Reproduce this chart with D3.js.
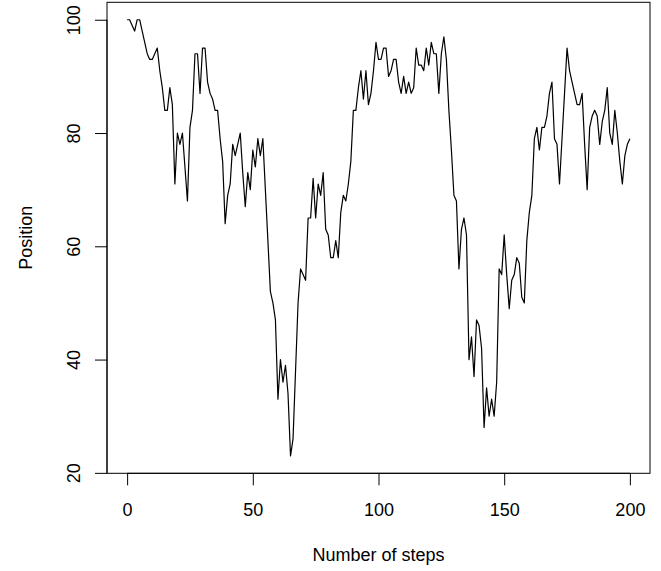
<!DOCTYPE html>
<html>
<head>
<meta charset="utf-8">
<title>Random walk</title>
<script src="https://d3js.org/d3.v7.min.js"></script>
<style>
  body { margin: 0; background: #fff; }
  svg text { font-family: "Liberation Sans", Arial, Helvetica, sans-serif; font-size: 18px; fill: #000; }
</style>
</head>
<body>
<svg id="chart" width="661" height="571"></svg>

<script>
// position after each step (step 0 .. 200)
var position = [
  100,100,99,98,100,100,98,96,94,93,
  93,94,95,91,88,84,84,88,85,71,
  80,78,80,74,68,81,84,94,94,87,
  95,95,89,87,86,84,84,79,75,64,
  69,71,78,76,78,80,73,67,73,70,
  77,74,79,76,79,70,61,52,50,47,
  33,40,36,39,34,23,26,38,50,56,
  55,54,65,65,72,65,71,69,73,63,
  62,58,58,61,58,66,69,68,71,75,
  84,84,88,91,86,91,85,87,91,96,
  93,93,95,95,90,91,93,93,89,87,
  90,87,89,87,88,95,92,92,91,95,
  92,96,94,94,87,94,97,93,84,77,
  69,68,56,63,65,62,40,44,37,47,
  46,42,28,35,30,33,30,36,56,55,
  62,55,49,54,55,58,57,51,50,61,
  66,69,79,81,77,81,81,83,87,89,
  79,78,71,79,87,95,91,89,87,85,
  85,87,78,70,81,83,84,83,78,82,
  84,88,80,78,84,80,75,71,76,78,
  79
];
var steps = d3.range(position.length);

var xTicks = [0, 50, 100, 150, 200];
var yTicks = [20, 40, 60, 80, 100];

var xLabel = "Number of steps";
var yLabel = "Position";

var svg = d3.select("#chart");

// plot box (R style: ranges padded by 4%)
var box = { left: 107, right: 650, top: 2.3, bottom: 473.3 };

var xExt = d3.extent(steps), yExt = d3.extent(position);
var xPad = (xExt[1] - xExt[0]) * 0.04, yPad = (yExt[1] - yExt[0]) * 0.04;

var x = d3.scaleLinear()
  .domain([xExt[0] - xPad, xExt[1] + xPad])
  .range([box.left, box.right]);

var y = d3.scaleLinear()
  .domain([yExt[0] - yPad, yExt[1] + yPad])
  .range([box.bottom, box.top]);

// the walk
var line = d3.line()
  .x(function (d, i) { return x(steps[i]); })
  .y(function (d) { return y(d); });

svg.append("path")
  .datum(position)
  .attr("d", line)
  .attr("fill", "none")
  .attr("stroke", "#000")
  .attr("stroke-width", 1.2)
  .attr("stroke-linejoin", "round");

// frame
svg.append("rect")
  .attr("x", box.left)
  .attr("y", box.top)
  .attr("width", box.right - box.left)
  .attr("height", box.bottom - box.top)
  .attr("fill", "none")
  .attr("stroke", "#000")
  .attr("stroke-width", 1);

// axes
var xAxis = d3.axisBottom(x).tickValues(xTicks).tickSize(12).tickPadding(6).tickFormat(d3.format("d"));
var gx = svg.append("g")
  .attr("transform", "translate(0," + box.bottom + ")")
  .call(xAxis);
gx.select(".domain")
  .attr("d", "M" + x(xTicks[0]) + ",0H" + x(xTicks[xTicks.length - 1]));
gx.selectAll("text")
  .attr("font-size", null)
  .attr("font-family", null)
  .attr("dy", null)
  .attr("y", 42.5);

var yAxis = d3.axisLeft(y).tickValues(yTicks).tickSize(12).tickFormat(d3.format("d"));
var gy = svg.append("g")
  .attr("transform", "translate(" + box.left + ",0)")
  .call(yAxis);
gy.select(".domain")
  .attr("d", "M0," + y(yTicks[0]) + "V" + y(yTicks[yTicks.length - 1]));
gy.selectAll("text")
  .attr("font-size", null)
  .attr("font-family", null)
  .attr("x", null)
  .attr("dy", null)
  .attr("text-anchor", "middle")
  .attr("transform", "translate(-27,0) rotate(-90)");

svg.selectAll(".tick line, .domain").attr("stroke", "#000");
svg.selectAll(".tick text").attr("fill", "#000");

// axis titles
svg.append("text")
  .attr("x", (box.left + box.right) / 2)
  .attr("y", 561)
  .attr("text-anchor", "middle")
  .text(xLabel);

svg.append("text")
  .attr("transform", "translate(32," + (box.top + box.bottom) / 2 + ") rotate(-90)")
  .attr("text-anchor", "middle")
  .text(yLabel);
</script>
</body>
</html>
